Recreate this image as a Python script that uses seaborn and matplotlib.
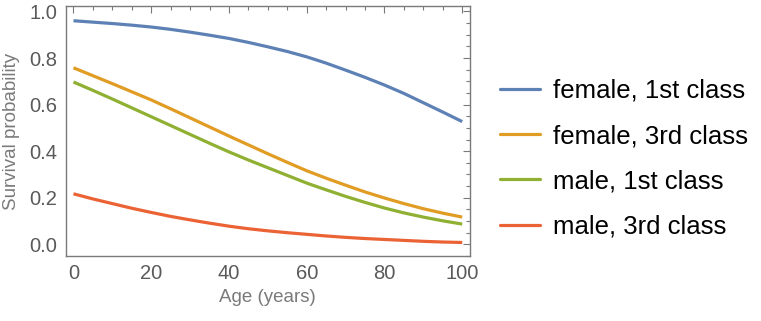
import numpy as np
import pandas as pd
import matplotlib
matplotlib.use("Agg")
import matplotlib.pyplot as plt
from matplotlib.ticker import MultipleLocator
import seaborn as sns

ages = [0, 5, 10, 15, 20, 25, 30, 35, 40, 45, 50, 55, 60, 65, 70, 75, 80, 85, 90, 95, 100]
female_1st = [0.960, 0.954, 0.948, 0.941, 0.933, 0.923, 0.911, 0.898, 0.884, 0.867, 0.848,
              0.828, 0.805, 0.778, 0.748, 0.717, 0.684, 0.648, 0.608, 0.568, 0.527]
female_3rd = [0.758, 0.724, 0.690, 0.655, 0.620, 0.582, 0.543, 0.504, 0.465, 0.427, 0.389,
              0.352, 0.316, 0.284, 0.254, 0.225, 0.199, 0.175, 0.153, 0.134, 0.117]
male_1st = [0.697, 0.661, 0.624, 0.586, 0.548, 0.510, 0.472, 0.434, 0.397, 0.362, 0.329,
            0.296, 0.263, 0.234, 0.206, 0.180, 0.156, 0.135, 0.117, 0.101, 0.087]
male_3rd = [0.217, 0.195, 0.175, 0.155, 0.137, 0.120, 0.105, 0.091, 0.078, 0.067, 0.058,
            0.050, 0.043, 0.036, 0.030, 0.025, 0.021, 0.017, 0.013, 0.010, 0.008]
series_names = ["female, 1st class", "female, 3rd class", "male, 1st class", "male, 3rd class"]
colors = ["#5E81B5", "#E19C24", "#8FB032", "#EB6235"]

frames = []
for name, vals in zip(series_names, [female_1st, female_3rd, male_1st, male_3rd]):
    frames.append(pd.DataFrame({"Age": ages, "Prob": vals, "Group": name}))
df = pd.concat(frames, ignore_index=True)

sns.set_theme(style="white")
plt.rcParams["font.family"] = ["Liberation Sans", "DejaVu Sans"]

fig = plt.figure(figsize=(7.61, 3.21), dpi=100)
ax = fig.add_axes([65.7 / 761, 1 - 256 / 321, (470 - 65.7) / 761, (256 - 6.3) / 321])

sns.lineplot(data=df, x="Age", y="Prob", hue="Group", hue_order=series_names,
             palette=colors, linewidth=2.3, ax=ax, legend=False)
for ln in ax.get_lines():
    ln.set_solid_joinstyle("round")
    ln.set_solid_capstyle("butt")

ax.set_xlim(-2, 102)
ax.set_ylim(-0.05, 1.022)
ax.xaxis.set_major_locator(MultipleLocator(20))
ax.xaxis.set_minor_locator(MultipleLocator(5))
ax.yaxis.set_major_locator(MultipleLocator(0.2))
ax.yaxis.set_minor_locator(MultipleLocator(0.05))
ax.yaxis.set_major_formatter(matplotlib.ticker.FormatStrFormatter("%.1f"))

frame_col = "#7a7a7a"
for s in ax.spines.values():
    s.set_color(frame_col)
    s.set_linewidth(1.0)
    s.set_visible(True)
ax.tick_params(which="both", direction="in", top=True, right=True, color=frame_col,
               labelcolor="#5a5a5a", labelsize=14.5, width=0.8)
ax.tick_params(which="major", length=5, pad=6)
ax.tick_params(which="minor", length=2.8)
ax.set_xlabel("Age (years)", fontsize=13.5, color="#7a7a7a", labelpad=4)
ax.set_ylabel("Survival probability", fontsize=13.5, color="#7a7a7a", labelpad=7)

handles = [plt.Line2D([], [], color=c, lw=2.3) for c in colors]
leg = fig.legend(handles, series_names, loc="center left",
                 bbox_to_anchor=(500 / 761, 1 - 158.8 / 321), bbox_transform=fig.transFigure,
                 frameon=False, fontsize=18.5, handlelength=1.55, handletextpad=0.5,
                 labelspacing=0.83, borderpad=0, borderaxespad=0)
for t in leg.get_texts():
    t.set_color("black")

fig.savefig("out.png", dpi=100)
